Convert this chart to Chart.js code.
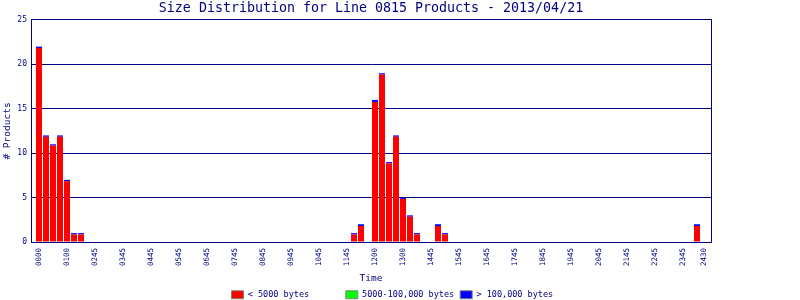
<!DOCTYPE html>
<html>
<head>
<meta charset="utf-8">
<title>Size Distribution</title>
<script src="https://cdn.jsdelivr.net/npm/chart.js@4.4.0/dist/chart.umd.min.js"></script>
<style>
    html, body { margin: 0; padding: 0; background: #fff; }
</style>
</head>
<body>
<canvas id="sizes" width="800" height="300"></canvas>
<script>
// 15-minute slots (0..95) that have products
var slots     = [0, 1, 2, 3, 4, 5, 6, 45, 46, 48, 49, 50, 51, 52, 53, 54, 57, 58, 94];
var smallSize = [21.85, 11.85, 10.85, 11.85, 6.85, 0.85, 0.85, 0.85, 1.8, 15.75, 18.85, 8.85, 11.85, 4.85, 2.85, 0.85, 1.8, 0.85, 1.8];
var midSize   = [0, 0, 0, 0, 0, 0, 0, 0, 0, 0, 0, 0, 0, 0, 0, 0, 0, 0, 0];
var largeSize = [0.15, 0.15, 0.15, 0.15, 0.15, 0.15, 0.15, 0.15, 0.2, 0.25, 0.15, 0.15, 0.15, 0.15, 0.15, 0.15, 0.2, 0.15, 0.2];

var tickSlots  = [0, 4, 8, 12, 16, 20, 24, 28, 32, 36, 40, 44, 48, 52, 56, 60, 64, 68, 72, 76, 80, 84, 88, 92, 95];
var tickLabels = ['0000', '0100', '0245', '0345', '0445', '0545', '0645', '0745', '0845', '0945', '1045', '1145',
                  '1200', '1300', '1445', '1545', '1645', '1745', '1845', '1945', '2045', '2145', '2245', '2345', '2430'];

var NAVY = '#000080';
var MONO = '"DejaVu Sans Mono", "Liberation Mono", monospace';

function points(values) {
    return slots.map(function (s, i) { return {x: s, y: values[i]}; });
}

function series(label, values, color) {
    return {
        label: label,
        data: points(values),
        backgroundColor: color,
        borderWidth: 0,
        borderSkipped: false,
        inflateAmount: 0,
        barThickness: 6
    };
}

new Chart(document.getElementById('sizes').getContext('2d'), {
    type: 'bar',
    data: {
        datasets: [
            series('< 5000 bytes', smallSize, '#ff0000'),
            series('5000-100,000 bytes', midSize, '#00ff00'),
            series('> 100,000 bytes', largeSize, '#0000ff')
        ]
    },
    options: {
        responsive: false,
        animation: false,
        layout: {padding: {left: 0, right: 0, top: 0, bottom: -9}},
        plugins: {
            title: {
                display: true,
                text: 'Size Distribution for Line 0815 Products - 2013/04/21',
                fullSize: false,
                color: NAVY,
                font: {family: MONO, size: 13.3, weight: 'normal'},
                padding: {top: 1, bottom: 3}
            },
            legend: {
                position: 'bottom',
                labels: {
                    boxWidth: 12,
                    boxHeight: 8,
                    padding: 6,
                    color: NAVY,
                    font: {family: MONO, size: 8.5},
                    generateLabels: function (chart) {
                        return chart.data.datasets.map(function (ds, i) {
                            return {
                                text: ds.label.padEnd(18, ' '),
                                fillStyle: ds.backgroundColor,
                                strokeStyle: '#808080',
                                lineWidth: 1,
                                fontColor: NAVY,
                                hidden: false,
                                datasetIndex: i
                            };
                        });
                    }
                }
            },
            tooltip: {enabled: false}
        },
        scales: {
            x: {
                type: 'linear',
                min: -1.14,
                max: 96,
                bounds: 'data',
                offset: false,
                stacked: true,
                grid: {display: false, offset: false},
                border: {color: NAVY},
                afterBuildTicks: function (scale) {
                    scale.ticks = tickSlots.map(function (v) { return {value: v}; });
                },
                afterFit: function (scale) { scale.height = 42.5; },
                ticks: {
                    autoSkip: false,
                    minRotation: 90,
                    maxRotation: 90,
                    padding: -2,
                    color: NAVY,
                    font: {family: MONO, size: 7.5},
                    callback: function (value) {
                        var k = tickSlots.indexOf(value);
                        return k < 0 ? '' : tickLabels[k];
                    }
                },
                title: {
                    display: true,
                    text: 'Time',
                    color: NAVY,
                    font: {family: MONO, size: 9.5},
                    padding: {top: 0, bottom: 0}
                }
            },
            y: {
                stacked: true,
                min: 0,
                max: 25,
                grid: {color: NAVY, drawTicks: false},
                border: {color: NAVY},
                afterFit: function (scale) { scale.width = 31; },
                ticks: {
                    stepSize: 5,
                    padding: 4,
                    color: NAVY,
                    font: {family: MONO, size: 8}
                },
                title: {
                    display: true,
                    text: '# Products',
                    color: NAVY,
                    font: {family: MONO, size: 9.5},
                    padding: {top: 2, bottom: 0}
                }
            },
            y2: {
                position: 'right',
                grid: {display: false},
                border: {color: NAVY},
                ticks: {display: false},
                afterFit: function (scale) { scale.width = 89; }
            }
        }
    }
});
</script>
</body>
</html>
